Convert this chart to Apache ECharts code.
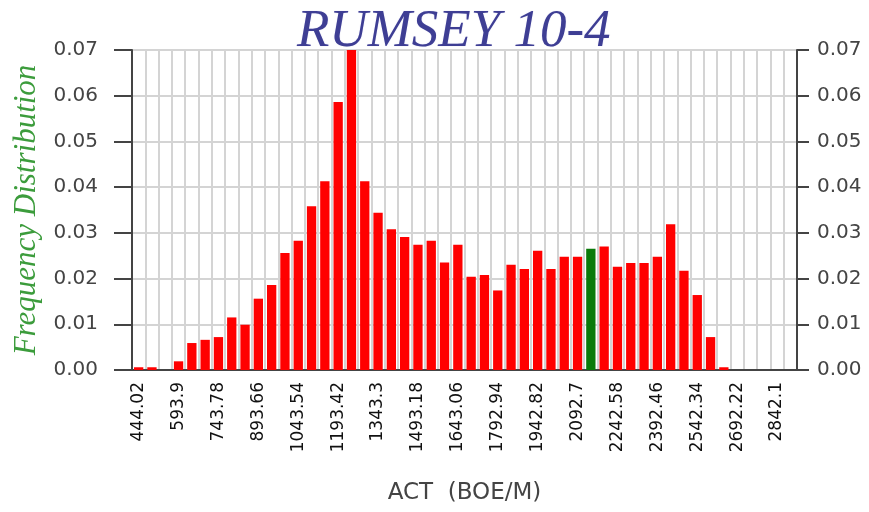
<!DOCTYPE html>
<html>
<head>
<meta charset="utf-8">
<script src="https://cdn.jsdelivr.net/npm/echarts@6/dist/echarts.min.js"></script>
<style>
  html, body { margin: 0; padding: 0; background: #fff; }
  #chart { width: 869px; height: 512px; }
</style>
</head>
<body>
<div id="chart"></div>
<script>
// labels shown on every 3rd bin (bins are ~49.96 wide)
var tickLabels = ['444.02', '593.9', '743.78', '893.66', '1043.54', '1193.42', '1343.3',
  '1493.18', '1643.06', '1792.94', '1942.82', '2092.7', '2242.58', '2392.46',
  '2542.34', '2692.22', '2842.1'];

var freq = [
  0.0006, 0.0006, 0, 0.0019, 0.0059, 0.0066, 0.0072, 0.0115, 0.0099, 0.0156,
  0.0186, 0.0256, 0.0283, 0.0358, 0.0413, 0.0586, 0.0700, 0.0413, 0.0344, 0.0308,
  0.0291, 0.0274, 0.0283, 0.0235, 0.0274, 0.0204, 0.0208, 0.0174, 0.0230, 0.0221,
  0.0261, 0.0221, 0.0248, 0.0248, 0.0265, 0.0270, 0.0226, 0.0234, 0.0234, 0.0248,
  0.0319, 0.0217, 0.0164, 0.0072, 0.0006, 0, 0, 0, 0, 0
];
var highlightIndex = 34;

var categories = [];
for (var i = 0; i < freq.length; i++) {
  categories.push(i % 3 === 0 ? tickLabels[i / 3] : String(i));
}

var chart = echarts.init(document.getElementById('chart'));

var axisLineStyle = { color: '#444', width: 2 };

var option = {
  animation: false,
  title: {
    text: 'RUMSEY 10-4',
    left: 292,
    top: 1,
    textStyle: {
      fontFamily: 'Liberation Serif',
      fontStyle: 'italic',
      fontWeight: 'normal',
      fontSize: 53,
      color: '#3e3e94',
      textShadowColor: 'rgba(120,120,200,0.4)',
      textShadowBlur: 1
    }
  },
  grid: { left: 132, right: 72, top: 50, bottom: 142 },
  xAxis: {
    type: 'category',
    data: categories,
    name: 'ACT  (BOE/M)',
    nameLocation: 'middle',
    nameGap: 112,
    nameTextStyle: { fontFamily: 'DejaVu Sans', fontSize: 23, color: '#444' },
    axisLine: { lineStyle: axisLineStyle },
    axisTick: { show: false },
    axisLabel: {
      interval: 2,
      rotate: 90,
      margin: 12,
      fontFamily: 'DejaVu Sans',
      fontSize: 17,
      color: '#111'
    },
    splitLine: {
      show: true,
      interval: 0,
      lineStyle: { color: '#d4d4d4', width: 2 }
    }
  },
  yAxis: [{
    type: 'value',
    min: 0,
    max: 0.07,
    interval: 0.01,
    name: 'Frequency Distribution',
    nameLocation: 'middle',
    nameGap: 82,
    nameTextStyle: {
      fontFamily: 'Liberation Serif',
      fontStyle: 'italic',
      fontSize: 31,
      color: '#3c9c3c'
    },
    axisLine: { show: true, lineStyle: axisLineStyle },
    axisTick: { show: true, length: 18, lineStyle: axisLineStyle },
    axisLabel: {
      margin: 34,
      fontFamily: 'DejaVu Sans',
      fontSize: 20,
      color: '#444',
      formatter: function (v) { return v.toFixed(2); }
    },
    splitLine: { show: true, lineStyle: { color: '#d4d4d4', width: 2 } }
  }, {
    type: 'value',
    min: 0,
    max: 0.07,
    interval: 0.01,
    position: 'right',
    axisLine: { show: true, lineStyle: axisLineStyle },
    axisTick: { show: true, length: 12, lineStyle: axisLineStyle },
    axisLabel: {
      margin: 20,
      fontFamily: 'DejaVu Sans',
      fontSize: 20,
      color: '#444',
      formatter: function (v) { return v.toFixed(2); }
    },
    splitLine: { show: false }
  }],
  series: [{
    type: 'bar',
    barCategoryGap: '30%',
    data: freq.map(function (v, i) {
      return {
        value: v,
        itemStyle: { color: i === highlightIndex ? '#0a7a0a' : '#ff0000' }
      };
    })
  }]
};

chart.setOption(option);
</script>
</body>
</html>
